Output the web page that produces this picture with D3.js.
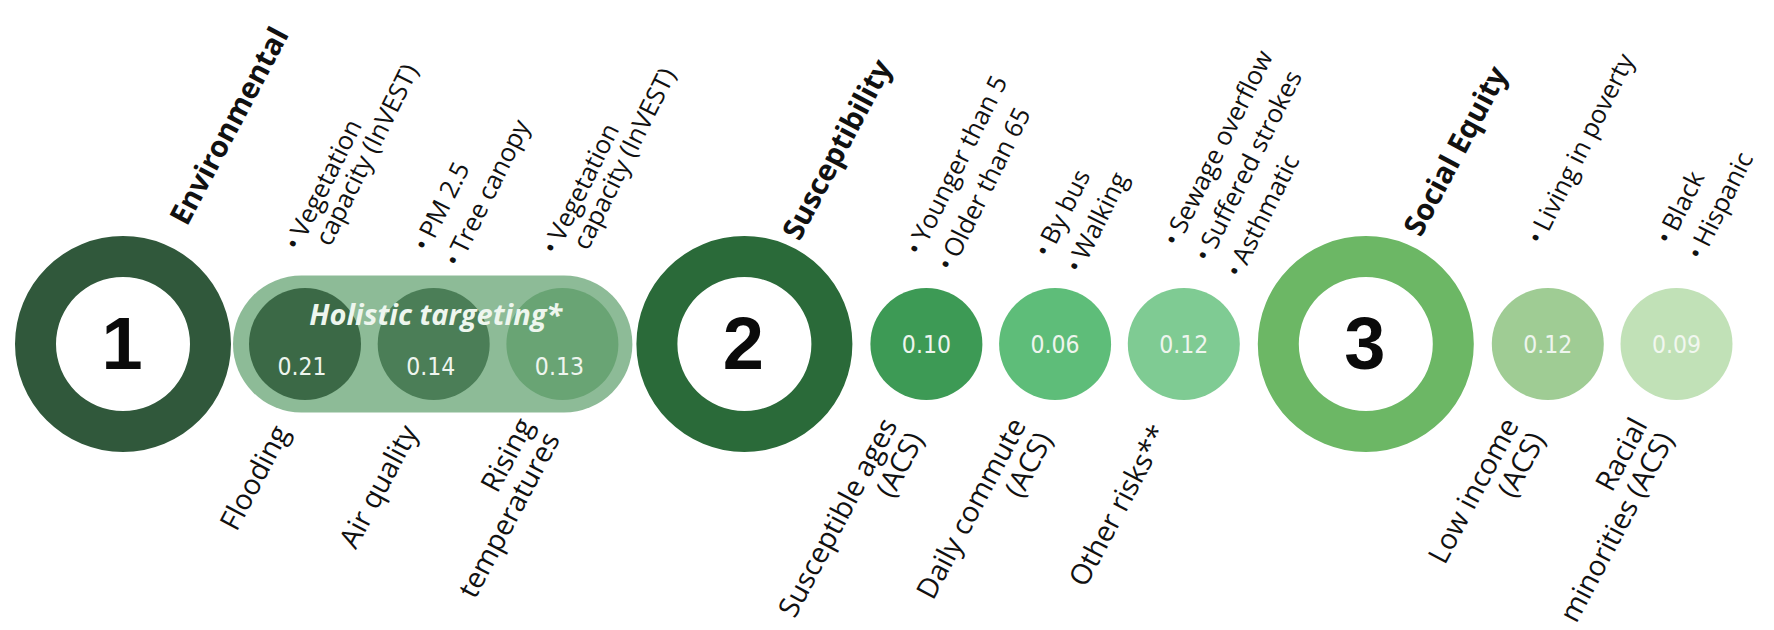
<!DOCTYPE html>
<html>
<head>
<meta charset="utf-8">
<script src="https://cdn.jsdelivr.net/npm/d3@7"></script>
<style>
  html, body { margin: 0; padding: 0; background: #ffffff; }
  svg { display: block; }
</style>
</head>
<body>
<svg id="chart" width="1774" height="630"></svg>
<script>
// ---------------- DATA ----------------
const groups = ["Environmental", "Susceptibility", "Social Equity"];
const groupNumbers = ["1", "2", "3"];
const indicatorGroup = [0, 0, 0, 1, 1, 1, 2, 2];
const indicatorNames = [
  ["Flooding"],
  ["Air quality"],
  ["Rising", "temperatures"],
  ["Susceptible ages", "(ACS)"],
  ["Daily commute", "(ACS)"],
  ["Other risks**"],
  ["Low income", "(ACS)"],
  ["Racial", "minorities (ACS)"]
];
const weights = [0.21, 0.14, 0.13, 0.10, 0.06, 0.12, 0.12, 0.09];
// sub-variables: each entry is a list of bullets, each bullet a list of wrapped lines
const subVariables = [
  [["Vegetation", "capacity (InVEST)"]],
  [["PM 2.5"], ["Tree canopy"]],
  [["Vegetation", "capacity (InVEST)"]],
  [["Younger than 5"], ["Older than 65"]],
  [["By bus"], ["Walking"]],
  [["Sewage overflow"], ["Suffered strokes"], ["Asthmatic"]],
  [["Living in poverty"]],
  [["Black"], ["Hispanic"]]
];
const holisticLabel = "Holistic targeting*";
const holisticIndicators = [0, 1, 2];

// ---------------- STYLE / LAYOUT ----------------
const ringColors = ["#30583b", "#2a6a39", "#6cb765"];
const circleColors = ["#3b6946", "#4b7e57", "#69a474", "#3d9a55", "#5ebd79", "#7fcb93", "#9fcc94", "#c1e1b7"];
const pillColor = "#8dbb97";
const titleAngle = -62, lowerAngle = -62, upperAngle = -63.5;
const cy = 344;
const ringR = 108, ringInner = 67, smallR = 56;
const titleOffsets = [[64, -117], [55, -102], [55, -106]];
const upperDy = [-92, -91, -88, -87, -85, -96, -98, -98];

const svg = d3.select("#chart");

// Build slot sequence: ring, small..., ring, small...
const seq = [];
let slot = 0;
groups.forEach((g, gi) => {
  if (gi > 0) slot += 182;
  seq.push({type: "ring", g: gi, s: slot});
  indicatorGroup.forEach((ig, ii) => {
    if (ig === gi) { slot += (seq[seq.length - 1].type === "ring" ? 182 : 128.7); seq.push({type: "small", i: ii, s: slot}); }
  });
});
const x = d3.scaleLinear().domain([0, slot]).range([123, 123 + slot]);

const rings = seq.filter(d => d.type === "ring");
const smalls = seq.filter(d => d.type === "small");

// Holistic pill
const hx = holisticIndicators.map(i => x(smalls.find(d => d.i === i).s));
const pillH = 137;
svg.append("rect")
  .attr("x", d3.min(hx) - 72).attr("y", cy - pillH / 2)
  .attr("width", d3.max(hx) - d3.min(hx) + 142).attr("height", pillH)
  .attr("rx", pillH / 2).attr("ry", pillH / 2)
  .attr("fill", pillColor);

// Rings
const ringArc = d3.arc().innerRadius(ringInner).outerRadius(ringR).startAngle(0).endAngle(2 * Math.PI);
rings.forEach(r => {
  svg.append("path").attr("d", ringArc()).attr("transform", `translate(${x(r.s)},${cy})`).attr("fill", ringColors[r.g]);
  svg.append("text").attr("x", x(r.s) - 1).attr("y", cy + 25)
    .attr("text-anchor", "middle")
    .attr("font-family", "'Liberation Sans', Arial, sans-serif").attr("font-weight", "bold")
    .attr("font-size", 74).attr("fill", "#0a0a0a").text(groupNumbers[r.g]);
  // group title
  const [ox, oy] = titleOffsets[r.g];
  svg.append("text")
    .attr("transform", `translate(${x(r.s) + ox},${cy + oy}) rotate(${titleAngle})`)
    .attr("font-family", "'Open Sans', sans-serif").attr("font-weight", "bold")
    .attr("font-size", 29.5).attr("fill", "#111").text(groups[r.g]);
});

// Small circles
smalls.forEach(d => {
  const cx = x(d.s);
  const inPill = holisticIndicators.includes(d.i);
  svg.append("circle").attr("cx", cx).attr("cy", cy).attr("r", smallR).attr("fill", circleColors[d.i]);
  svg.append("text").attr("x", cx - (inPill ? 3 : 0)).attr("y", inPill ? 375 : 353)
    .attr("text-anchor", "middle")
    .attr("font-family", "'DejaVu Sans Condensed', 'DejaVu Sans', sans-serif")
    .attr("font-size", 24.5).attr("fill", d.i === 7 ? "#f1f7ef" : "#eef5ee")
    .text(d3.format(".2f")(weights[d.i]));
});

// Holistic title
svg.append("text").attr("x", d3.mean(hx) + 2).attr("y", 325)
  .attr("text-anchor", "middle")
  .attr("font-family", "'Open Sans', sans-serif").attr("font-weight", "bold").attr("font-style", "italic")
  .attr("font-size", 29).attr("fill", "#eef6ee").text(holisticLabel);

// Lower indicator labels (right-aligned, block centred on anchor)
smalls.forEach(d => {
  const cx = x(d.s);
  const lines = indicatorNames[d.i];
  const lh = 30;
  const g = svg.append("g").attr("transform", `translate(${cx - 15},${cy + 88}) rotate(${lowerAngle})`);
  lines.forEach((t, k) => {
    g.append("text").attr("x", 0).attr("y", (k - (lines.length - 1) / 2) * lh)
      .attr("text-anchor", "end")
      .attr("font-family", "'Open Sans', sans-serif").attr("font-size", 28.5)
      .attr("fill", "#111").text(t);
  });
});

// Upper sub-variable bullet lists
smalls.forEach(d => {
  const cx = x(d.s);
  const g = svg.append("g").attr("transform", `translate(${cx - 6},${cy + upperDy[d.i]}) rotate(${upperAngle})`);
  let yy = 0;
  subVariables[d.i].forEach((bullet, bi) => {
    if (bi > 0) yy += 35;
    bullet.forEach((t, li) => {
      if (li > 0) yy += 26;
      const tx = g.append("text").attr("x", 0).attr("y", yy)
        .attr("font-family", "'Open Sans', sans-serif").attr("font-size", 25.5).attr("fill", "#111");
      if (li === 0) {
        tx.append("tspan").text("•");
        tx.append("tspan").attr("dx", 5).text(t);
      } else {
        tx.attr("x", 18).text(t);
      }
    });
  });
});
</script>
</body>
</html>
